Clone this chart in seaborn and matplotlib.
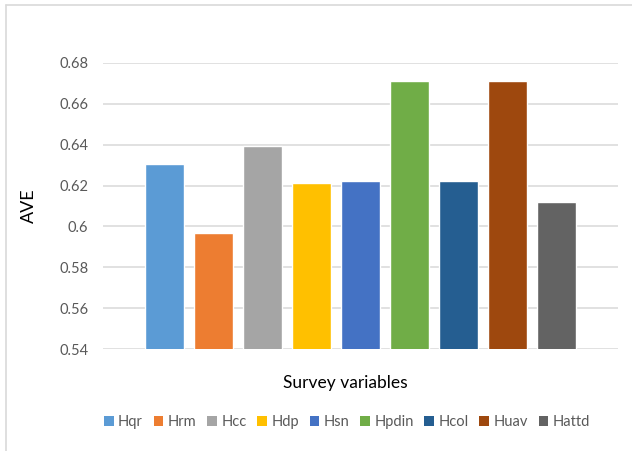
import matplotlib
matplotlib.use("Agg")
import matplotlib.pyplot as plt
from matplotlib.patches import Patch
from matplotlib.lines import Line2D
import seaborn as sns
import pandas as pd

categories = ["Hqr", "Hrm", "Hcc", "Hdp", "Hsn", "Hpdin", "Hcol", "Huav", "Hattd"]
ave_values = [0.6304, 0.5968, 0.6393, 0.6212, 0.622, 0.6712, 0.622, 0.6712, 0.6118]
colors = ["#5B9BD5", "#ED7D31", "#A5A5A5", "#FFC000", "#4472C4",
          "#70AD47", "#255E91", "#9E480E", "#636363"]
y_ticks = [0.54, 0.56, 0.58, 0.60, 0.62, 0.64, 0.66, 0.68]
y_tick_labels = ["0.54", "0.56", "0.58", "0.6", "0.62", "0.64", "0.66", "0.68"]

sns.set_theme(style="white")
plt.rcParams["font.family"] = ["Lato", "DejaVu Sans"]
text_color = "#595959"
grid_color = "#D9D9D9"

df = pd.DataFrame({"var": categories, "AVE": ave_values})
palette = dict(zip(categories, colors))

fig = plt.figure(figsize=(6.32, 4.51), dpi=100)
ax = fig.add_axes([103 / 632, 1 - 349.3 / 451, 514.7 / 632, 286.6 / 451])

sns.barplot(data=df, x="var", y="AVE", hue="var", palette=palette,
            order=categories, hue_order=categories, width=0.79,
            saturation=1, legend=False, ax=ax, zorder=3)

ax.set_ylim(0.54, 0.68)
ax.set_xlim(-1.25, 9.25)
ax.set_yticks(y_ticks)
ax.set_yticklabels(y_tick_labels)
ax.set_xticks([])
ax.tick_params(axis="y", length=0, pad=10.5, labelsize=10.5, labelcolor=text_color)
ax.yaxis.grid(True, color=grid_color, linewidth=1.1, zorder=0)
ax.set_axisbelow(True)
for s in ax.spines.values():
    s.set_visible(False)

ax.set_xlabel("")
ax.set_ylabel("AVE", fontsize=13, color="black")
ax.yaxis.set_label_coords(-0.128, 0.5)

fig.text(345 / 632, 1 - 383 / 451, "Survey variables", ha="center", va="center",
         fontsize=12.5, color="black")

handles = [Patch(facecolor=c, edgecolor="none") for c in colors]
fig.legend(handles, categories, loc="center", bbox_to_anchor=(347 / 632, 1 - 422 / 451),
           ncol=9, frameon=False, fontsize=10.5, labelcolor=text_color,
           handlelength=0.65, handleheight=0.65, handletextpad=0.3, columnspacing=0.75)

# chart border (left and top visible)
fig.add_artist(Line2D([5.5 / 632, 5.5 / 632], [0, 1 - 5 / 451], transform=fig.transFigure,
                      color="#D9D9D9", linewidth=1.2))
fig.add_artist(Line2D([5.5 / 632, 1], [1 - 5 / 451, 1 - 5 / 451], transform=fig.transFigure,
                      color="#D9D9D9", linewidth=1.2))

fig.savefig("out.png", dpi=100)
